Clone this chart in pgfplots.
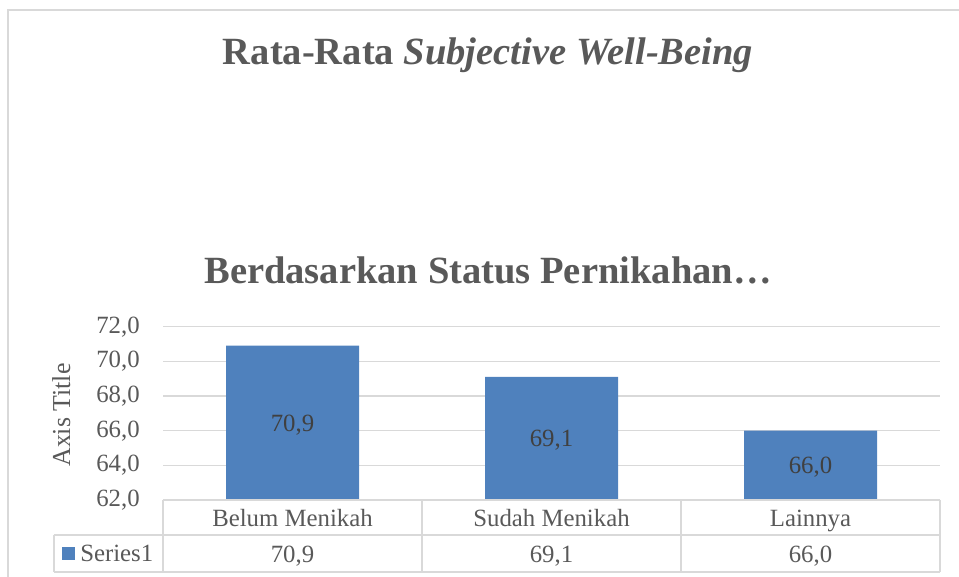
\documentclass[border=0pt]{standalone}
\usepackage{pgfplots}
\pgfplotsset{compat=1.18}
\usepackage{fontspec}
\setmainfont{Liberation Serif}
\definecolor{barblue}{HTML}{4F81BD}
\definecolor{txt}{HTML}{595959}
\definecolor{lbl}{HTML}{404040}
\definecolor{gridc}{HTML}{D9D9D9}
\newcommand{\tf}{\fontsize{18.6}{22}\selectfont}
\begin{document}
\begin{tikzpicture}[x=0.75pt,y=0.75pt]
\path[use as bounding box] (0,0) rectangle (959,577);
\draw[gridc, line width=1.2pt] (8,-5) -- (8,567) -- (965,567);
\node[txt, font=\fontsize{28.9}{34}\selectfont\bfseries, anchor=base, inner sep=0pt] at (488,512) {Rata-Rata \textit{Subjective Well-Being}};
\node[txt, font=\fontsize{28.9}{34}\selectfont\bfseries, anchor=base, inner sep=0pt] at (488,293) {Berdasarkan Status Pernikahan…};
\node[txt, font=\fontsize{19.4}{23}\selectfont, rotate=90, anchor=base, inner sep=0pt] at (70,162) {Axis Title};
\begin{axis}[
  at={(122.25pt,57.75pt)}, anchor=south west,
  scale only axis, width=582.75pt, height=130pt,
  xmin=-0.5, xmax=2.5, ymin=62, ymax=72,
  ytick={62,64,...,72}, xtick={0,1,2},
  xticklabels={Belum Menikah, Sudah Menikah, Lainnya},
  axis line style={draw=none}, major tick length=0pt,
  ymajorgrids, grid style={gridc, line width=1.2pt},
  clip mode=individual,
  ybar, bar width=99.75pt,
  tick label style={font=\tf, text=txt},
  yticklabel style={anchor=east, inner sep=0pt, xshift=-17.25pt},
  xticklabel style={anchor=base, inner sep=0pt, yshift=-20.25pt},
  /pgf/number format/assume math mode=true,
  /pgf/number format/use comma,
  /pgf/number format/fixed,
  /pgf/number format/fixed zerofill,
  /pgf/number format/precision=1,
  legend style={at={(rel axis cs:-0.1300,-0.3116)}, anchor=west, draw=none, fill=none, inner sep=0pt, nodes={inner sep=0pt, text=txt}, font=\tf},
]
\addplot[fill=barblue, draw=none,
  legend image code/.code={\fill[barblue] (0pt,-4.25pt) rectangle (9.75pt,5.5pt);},
  nodes near coords,
  visualization depends on=rawy\as\rawy,
  every node near coord/.append style={anchor=center, yshift={-6.5pt*(\rawy-62)-1.5pt}, font=\tf, text=lbl}]
  coordinates {(0,70.9) (1,69.1) (2,66.0)};
\addlegendentry{\hspace{3.75pt}Series1}
% data table grid
\draw[gridc, line width=1.2pt] (rel axis cs:0,0) -- (rel axis cs:1,0);
\draw[gridc, line width=1.2pt] ([xshift=-81.75pt,yshift=-26.25pt]rel axis cs:0,0) -- ([yshift=-26.25pt]rel axis cs:1,0);
\draw[gridc, line width=1.2pt] ([xshift=-81.75pt,yshift=-54pt]rel axis cs:0,0) -- ([yshift=-54pt]rel axis cs:1,0);
\draw[gridc, line width=1.2pt] ([xshift=-81.75pt,yshift=-26.25pt]rel axis cs:0,0) -- ([xshift=-81.75pt,yshift=-54pt]rel axis cs:0,0);
\draw[gridc, line width=1.2pt] (axis cs:-0.5,62) -- ([yshift=-54pt]axis cs:-0.5,62);
\draw[gridc, line width=1.2pt] (axis cs:0.5,62) -- ([yshift=-54pt]axis cs:0.5,62);
\draw[gridc, line width=1.2pt] (axis cs:1.5,62) -- ([yshift=-54pt]axis cs:1.5,62);
\draw[gridc, line width=1.2pt] (axis cs:2.5,62) -- ([yshift=-54pt]axis cs:2.5,62);
\node[anchor=base, yshift=-47.25pt, font=\tf, text=txt] at (axis cs:0,62) {70,9};
\node[anchor=base, yshift=-47.25pt, font=\tf, text=txt] at (axis cs:1,62) {69,1};
\node[anchor=base, yshift=-47.25pt, font=\tf, text=txt] at (axis cs:2,62) {66,0};
\end{axis}
\end{tikzpicture}
\end{document}
